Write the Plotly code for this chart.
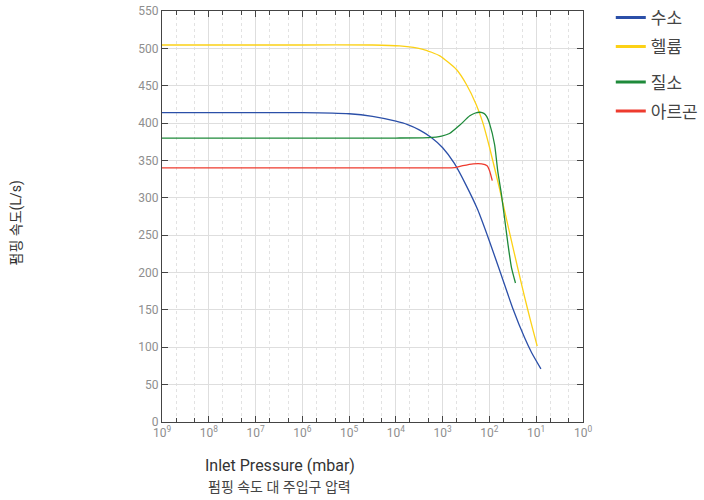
import plotly.graph_objects as go

# Pumping speed (L/s) versus inlet pressure (mbar) for four gases
h2_pressure = [1e-9, 1e-6, 1e-5, 3.16e-5, 1e-4, 1.78e-4, 3.16e-4, 5.62e-4, 1e-3, 1.78e-3,
               3.16e-3, 5.62e-3, 1e-2, 1.78e-2, 3.16e-2, 5.62e-2, 7.94e-2, 1.26e-1]
h2_speed = [414, 414, 412.5, 409, 402.5, 398, 391, 381, 367, 346,
            317, 284, 242, 197, 152, 113, 93, 71]

he_pressure = [1e-9, 1e-6, 3.2e-5, 1.2e-4, 3.8e-4, 8.7e-4, 1.95e-3, 3.2e-3, 5.2e-3,
               7.1e-3, 1e-2, 1.66e-2, 2.7e-2, 4.1e-2, 5.6e-2, 7.6e-2, 1.05e-1]
he_speed = [504.5, 504.5, 504.5, 503.3, 498.8, 490, 472, 452, 425,
            402, 368, 311, 253, 204, 168, 135, 101.5]

n2_pressure = [1e-9, 1e-6, 1e-4, 5e-4, 9.5e-4, 1.4e-3, 2.3e-3, 3.8e-3, 5.0e-3, 6.3e-3,
               7.6e-3, 8.7e-3, 1.01e-2, 1.29e-2, 1.51e-2, 1.8e-2, 2.5e-2, 2.95e-2, 3.6e-2]
n2_speed = [380, 380, 380, 380.5, 382.6, 386, 397, 409.7, 413.5, 414.5,
            413, 409, 399, 371, 335, 305, 237, 207, 186]

ar_pressure = [1e-9, 1e-6, 1e-3, 1.8e-3, 2.7e-3, 4.5e-3, 6.8e-3, 8.9e-3, 1.01e-2, 1.15e-2]
ar_speed = [340, 340, 340, 340.3, 343, 345.5, 345.5, 343, 336, 323]

gas_names = ["수소", "헬륨", "질소", "아르곤"]
gas_colors = ["#2b4fa8", "#fcd116", "#1e8a3a", "#ee3b2e"]
gas_legends = ["legend", "legend", "legend2", "legend2"]

x_tickvals = [1e-9, 1e-8, 1e-7, 1e-6, 1e-5, 1e-4, 1e-3, 1e-2, 1e-1, 1e0]
x_ticktext = ["10<sup>9</sup>", "10<sup>8</sup>", "10<sup>7</sup>", "10<sup>6</sup>",
              "10<sup>5</sup>", "10<sup>4</sup>", "10<sup>3</sup>", "10<sup>2</sup>",
              "10<sup>1</sup>", "10<sup>0</sup>"]

series = [(h2_pressure, h2_speed), (he_pressure, he_speed),
          (n2_pressure, n2_speed), (ar_pressure, ar_speed)]

FONT = "Roboto, 'Noto Sans CJK KR', sans-serif"

fig = go.Figure()
for (px, sp), name, color in zip(series, gas_names, gas_colors):
    fig.add_trace(go.Scatter(
        x=px, y=sp, mode="lines", name=name, showlegend=False,
        line=dict(color=color, width=1.3, shape="spline", smoothing=0.5),
        hoverinfo="x+y+name",
    ))
# legend entries with a heavier sample stroke, one group per entry
for name, color, lg in zip(gas_names, gas_colors, gas_legends):
    fig.add_trace(go.Scatter(
        x=[None], y=[None], mode="lines", name=name, legendgroup=name,
        legend=lg, line=dict(color=color, width=3),
    ))

axis_common = dict(
    showline=True, linecolor="#444", linewidth=1, mirror="ticks",
    ticks="inside", tickcolor="#444",
    tickfont=dict(family=FONT, size=12, color="#8e8e8e"),
    zeroline=False,
)

fig.update_xaxes(
    type="log", range=[-9, 0],
    tickvals=x_tickvals, ticktext=x_ticktext, ticklen=6,
    showgrid=True, gridcolor="#dedede", gridwidth=1,
    minor=dict(ticks="inside", ticklen=4, tickcolor="#444",
               showgrid=True, gridcolor="#e2e2e2", griddash="dot"),
    **axis_common,
)
fig.update_yaxes(
    range=[0, 550], dtick=50, ticklen=6,
    showgrid=True, gridcolor="#dedede", gridwidth=1,
    **axis_common,
)

fig.add_annotation(text="Inlet Pressure (mbar)", xref="paper", yref="paper",
                   x=0.28, y=-0.107, xanchor="center", yanchor="middle",
                   showarrow=False, font=dict(family=FONT, size=16, color="#333"))
fig.add_annotation(text="펌핑 속도 대 주입구 압력", xref="paper", yref="paper",
                   x=0.28, y=-0.157, xanchor="center", yanchor="middle",
                   showarrow=False, font=dict(family=FONT, size=14, color="#444"))
fig.add_annotation(text="펌핑 속도(L/s)", xref="paper", yref="paper",
                   x=-0.345, y=0.485, xanchor="center", yanchor="middle",
                   textangle=-90, showarrow=False,
                   font=dict(family=FONT, size=14, color="#333"))

legend_style = dict(xanchor="left", yanchor="top", tracegroupgap=4,
                    font=dict(family=FONT, size=17, color="#444"),
                    bgcolor="rgba(0,0,0,0)")

fig.update_layout(
    width=704, height=500,
    margin=dict(l=162, r=121, t=11, b=78, autoexpand=False),
    paper_bgcolor="white", plot_bgcolor="white",
    font=dict(family=FONT),
    legend=dict(x=1.066, y=1.027, **legend_style),
    legend2=dict(x=1.066, y=0.870, **legend_style),
)

fig.write_html("out.html")
